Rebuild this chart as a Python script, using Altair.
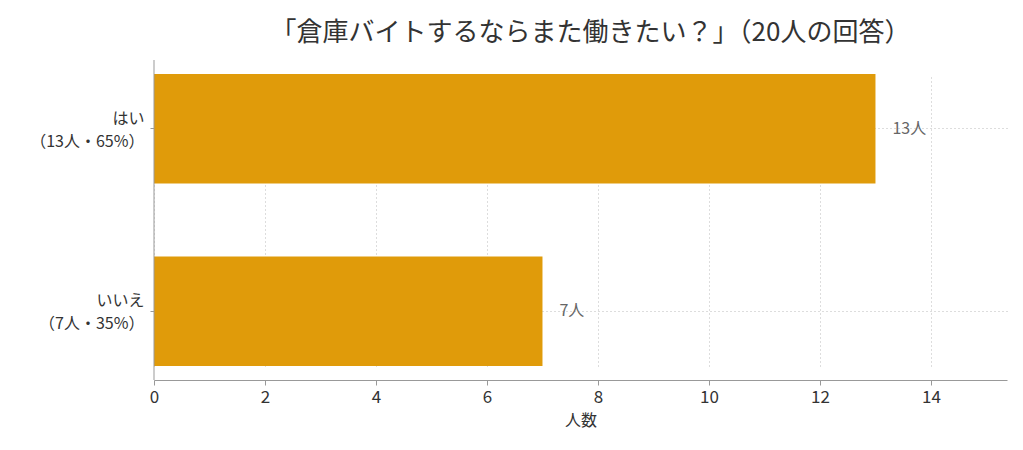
import altair as alt
import pandas as pd

categories = ["はい\n（13人・65%）", "いいえ\n（7人・35%）"]
counts = [13, 7]
value_labels = ["13人", "7人"]

df = pd.DataFrame({"cat": categories, "n": counts, "lab": value_labels})

FONT = "Noto Sans CJK JP"

y_enc = alt.Y(
    "cat:N",
    sort=categories,
    title=None,
    scale=alt.Scale(range=[14, 306], paddingInner=0.4, paddingOuter=0),
    axis=alt.Axis(
        labelExpr="split(datum.label, '\\n')",
        labelFontSize=16,
        labelColor="#333333",
        labelFont=FONT,
        labelPadding=6,
        labelLineHeight=23,
        labelOffset=-10,
        tickSize=4,
        tickColor="#999999",
        domain=False,
        grid=True,
        gridDash=[1, 3],
        gridColor="#bbbbbb",
        bandPosition=0.5,
    ),
)

x_enc = alt.X(
    "n:Q",
    title="人数",
    scale=alt.Scale(domain=[0, 15.37], nice=False),
    axis=alt.Axis(
        values=[0, 2, 4, 6, 8, 10, 12, 14],
        format="d",
        labelFlush=False,
        labelFontSize=17,
        labelColor="#333333",
        labelFont=FONT,
        labelPadding=4,
        tickSize=5,
        tickColor="#999999",
        domainColor="#999999",
        grid=True,
        gridDash=[1, 3],
        gridColor="#bbbbbb",
        titleFontSize=16,
        titleFont=FONT,
        titleColor="#333333",
        titleFontWeight="normal",
        titlePadding=7,
    ),
)

bars = alt.Chart(df).mark_bar(color="#E09B0A").encode(x=x_enc, y=y_enc)

text = alt.Chart(df).mark_text(
    align="left", baseline="middle", dx=17, fontSize=16, color="#666666", font=FONT
).encode(x="n:Q", y=alt.Y("cat:N", sort=categories), text="lab:N")

zero = pd.DataFrame({"z": [0]})
axis_line = alt.Chart(zero).mark_rule(color="#999999", strokeWidth=1).encode(x="z:Q")

chart = (
    alt.layer(bars, text, axis_line)
    .properties(
        width=853,
        height=320,
        autosize=alt.AutoSizeParams(type="none"),
        padding={"left": 146, "top": 52, "right": 8, "bottom": 62},
        title=alt.TitleParams(
            "「倉庫バイトするならまた働きたい？」（20人の回答）",
            fontSize=26,
            font=FONT,
            fontWeight="normal",
            color="#333333",
            anchor="middle",
            offset=14,
            dx=10,
        ),
    )
    .configure_view(stroke=None)
)

chart.save("out.html", embed_options={"renderer": "svg", "actions": False})
